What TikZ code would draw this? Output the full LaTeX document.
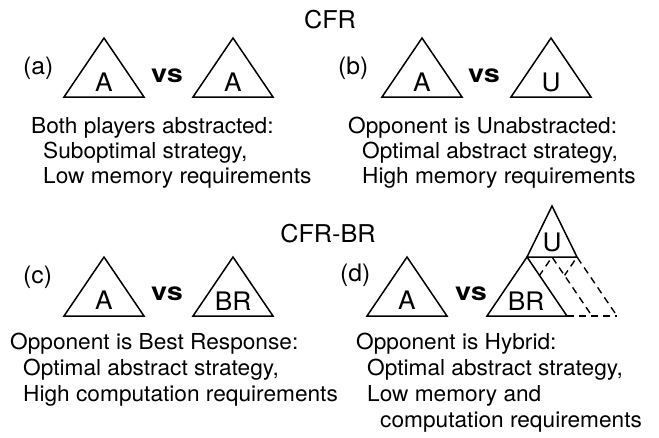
\documentclass[tikz,border=0pt]{standalone}
\usepackage{fontspec}
\setmainfont[FakeStretch=1.03]{TeX Gyre Heros}
\begin{document}
\begin{tikzpicture}[x=1pt,y=-1pt,
  tri/.style={line width=1.5pt, line join=miter},
  dtri/.style={line width=1.4pt, dash pattern=on 7pt off 5pt},
  txt/.style={anchor=base west, inner sep=0pt, font=\fontsize{22}{26}\selectfont},
  lbl/.style={anchor=base, inner sep=0pt, font=\fontsize{25.5}{28}\selectfont},
  ttl/.style={anchor=base, inner sep=0pt, font=\fontsize{24.5}{28}\selectfont},
  tag/.style={anchor=base west, inner sep=0pt, font=\fontsize{24}{26}\selectfont},
  vsl/.style={anchor=base west, inner sep=0pt, font=\fontsize{25}{28}\selectfont\bfseries}]
\useasboundingbox (0,0) rectangle (659,437);

% titles
\node[ttl] (t1) at (330,28) {CFR};
\node[ttl] (t2) at (328,242) {CFR-BR};

% ---------- (a)
\node[tag] (ta) at (23,74) {(a)};
\draw[tri] (104,38) -- (64,97) -- (144,97) -- cycle;
\draw[tri] (233,38) -- (193,97) -- (273,97) -- cycle;
\node[lbl] (aa1) at (104,91) {A};
\node[lbl] (aa2) at (233,91) {A};
\node[vsl] (va) at (151,82) {\scalebox{1.12}[1]{vs}};
\node[txt] (da1) at (31,133) {Both players abstracted:};
\node[txt] (da2) at (43,158) {Suboptimal strategy,};
\node[txt] (da3) at (43,183) {Low memory requirements};

% ---------- (b)
\node[tag] (tb) at (338,74) {(b)};
\draw[tri] (422,38) -- (382,97) -- (462,97) -- cycle;
\draw[tri] (551,38) -- (511,97) -- (591,97) -- cycle;
\node[lbl] (ba1) at (422,91) {A};
\node[lbl] (bu) at (551,91) {U};
\node[vsl] (vb) at (468,82) {\scalebox{1.12}[1]{vs}};
\node[txt] (db1) at (348,133) {Opponent is Unabstracted:};
\node[txt] (db2) at (362,158) {Optimal abstract strategy,};
\node[txt] (db3) at (362,183) {High memory requirements};

% ---------- (c)
\node[tag] (tc) at (23,283) {(c)};
\draw[tri] (104,257) -- (64,316) -- (144,316) -- cycle;
\draw[tri] (233,257) -- (193,316) -- (273,316) -- cycle;
\node[lbl] (ca1) at (104,309) {A};
\node[lbl] (cbr) at (233,310) {BR};
\node[vsl] (vc) at (151,300) {\scalebox{1.12}[1]{vs}};
\node[txt] (dc1) at (10,349) {Opponent is Best Response:};
\node[txt] (dc2) at (23,375) {Optimal abstract strategy,};
\node[txt] (dc3) at (23,401) {High computation requirements};

% ---------- (d)
\node[tag] (td) at (340,281) {(d)};
\draw[tri] (407,257) -- (367,316) -- (447,316) -- cycle;
\node[lbl] (da) at (407,309) {A};
\node[vsl] (vd) at (455,300) {\scalebox{1.12}[1]{vs}};
% hybrid tree
\coordinate (ua) at (552,206);
\coordinate (ul) at (527,257);
\coordinate (ur) at (577,257);
\coordinate (bra) at (527,257);
\coordinate (brl) at (487,316);
\coordinate (brr) at (567,316);
\coordinate (d1a) at (552,257);
\coordinate (d1l) at (512,316);
\coordinate (d1r) at (592,316);
\coordinate (d2a) at (577,257);
\coordinate (d2l) at (537,316);
\coordinate (d2r) at (617,316);
\fill[white] (d2a) -- (d2l) -- (d2r) -- cycle;
\draw[dtri] (d2l) -- (d2a) -- (d2r);
\fill[white] (d1a) -- (d1l) -- (d1r) -- cycle;
\draw[dtri] (d1l) -- (d1a) -- (d1r);
\draw[dtri] (brr) -- (d2r);
\draw[tri, fill=white] (bra) -- (brl) -- (brr) -- cycle;
\draw[tri] (ua) -- (ul) -- (ur) -- cycle;
\node[lbl] (du) at (552,251) {U};
\node[lbl] (dbr) at (526,310) {BR};
\node[txt] (dd1) at (356,349) {Opponent is Hybrid:};
\node[txt] (dd2) at (367,375) {Optimal abstract strategy,};
\node[txt] (dd3) at (367,401) {Low memory and};
\node[txt] (dd4) at (380,427) {computation requirements};
\end{tikzpicture}
\end{document}
